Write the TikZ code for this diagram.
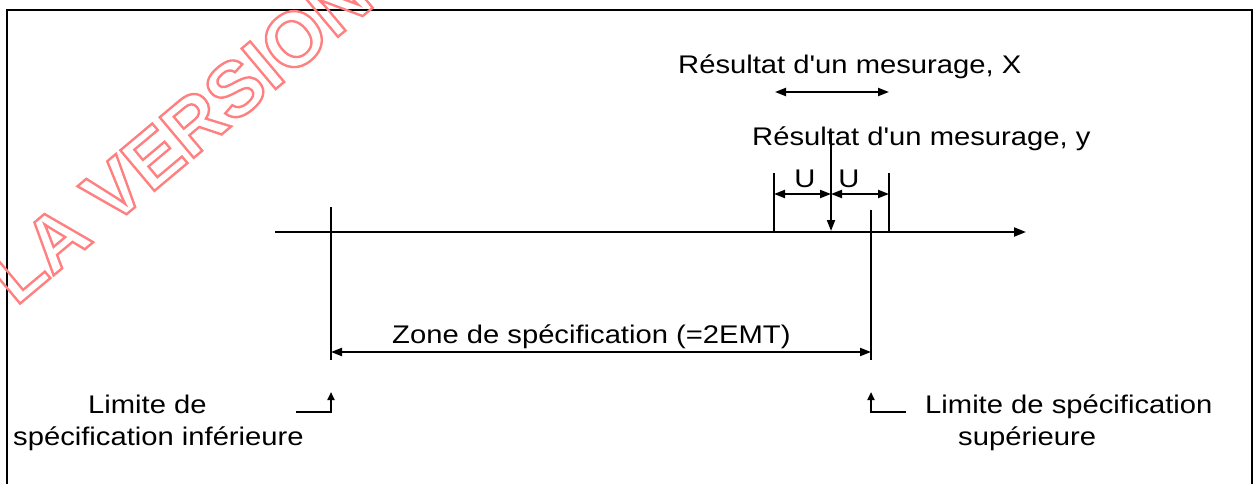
\documentclass[tikz,border=0pt]{standalone}
\usepackage{fontspec}
\setmainfont{Liberation Sans}[FakeStretch=1.145, Ligatures=TeXOff]
\newfontfamily\wmfont{Liberation Sans}
\usetikzlibrary{arrows.meta}
% outlined text: stroke the glyphs instead of filling them
\newcommand{\outlinetext}[1]{\special{pdf:literal direct 1 Tr 2.4 w 1 0.5 0.5 RG}#1\special{pdf:literal direct 0 Tr 0 G}}
\tikzset{
  lbl/.style={inner sep=0pt, anchor=base west, font=\fontsize{25.5}{32}\selectfont},
  ln/.style={line width=2pt},
  axisline/.style={line width=2pt, -{Triangle[length=12pt,width=9pt]}},
  dim/.style={line width=2pt, {Triangle[length=11pt,width=8pt]}-{Triangle[length=11pt,width=8pt]}},
  tipline/.style={line width=2pt, -{Triangle[length=11pt,width=8pt]}},
  small tip/.style={line width=2pt, -{Triangle[length=8pt,width=7pt]}},
  wm/.style={anchor=base west, inner sep=0pt, rotate=40, font=\wmfont\bfseries\fontsize{77}{77}\selectfont},
}
\begin{document}
\begin{tikzpicture}[x=1pt,y=-1pt]
\useasboundingbox (0,0) rectangle (1260,484);

% frame (open at the bottom)
\draw[line width=2pt] (7,500) -- (7,10) -- (1252,10) -- (1252,500);

% measurement axis
\coordinate (ax0) at (275,232);
\coordinate (ax1) at (1026,232);
\draw[axisline] (ax0) -- (ax1);

% specification limits
\coordinate (lsl-top) at (331,207);
\coordinate (lsl-bot) at (331,360);
\coordinate (lsu-top) at (871,210);
\coordinate (lsu-bot) at (871,360);
\draw[ln] (lsl-top) -- (lsl-bot);
\draw[ln] (lsu-top) -- (lsu-bot);

% specification zone
\coordinate (zl) at (331,352);
\coordinate (zr) at (871,352);
\draw[dim] (zl) -- (zr);
\node[lbl] (zone) at (392,343) {Zone de spécification (=2EMT)};

% measurement result X
\node[lbl] (resX) at (678,74) {Résultat d'un mesurage, X};
\coordinate (xl) at (775,92);
\coordinate (xr) at (889,92);
\draw[dim] (xl) -- (xr);

% measurement result y with its uncertainty U
\node[lbl] (resy) at (752,146) {Résultat d'un mesurage, y};
\coordinate (ytop) at (831,133);
\coordinate (yax) at (831,231);
\draw[tipline] (ytop) -- (yax);

\coordinate (ul-top) at (774,173);
\coordinate (ul-bot) at (774,232);
\coordinate (ur-top) at (889,173);
\coordinate (ur-bot) at (889,232);
\draw[ln] (ul-top) -- (ul-bot);
\draw[ln] (ur-top) -- (ur-bot);
\coordinate (um) at (831,194);
\draw[dim] (ul-top |- um) -- (um);
\draw[dim] (um) -- (ur-top |- um);
\node[lbl, anchor=base] (u1) at (805,187) {U};
\node[lbl, anchor=base] (u2) at (849,187) {U};

% lower limit label
\node[lbl] (lo1) at (88,413) {Limite de};
\node[lbl] (lo2) at (13,445) {spécification inférieure};
\coordinate (la0) at (296,412);
\coordinate (la1) at (331,412);
\coordinate (la2) at (331,392);
\draw[small tip] (la0) -- (la1) -- (la2);

% upper limit label
\node[lbl] (up1) at (925,413) {Limite de spécification};
\node[lbl] (up2) at (958,445) {supérieure};
\coordinate (ua0) at (906,412);
\coordinate (ua1) at (871,412);
\coordinate (ua2) at (871,392);
\draw[small tip] (ua0) -- (ua1) -- (ua2);

% watermark
\node[wm] (mark) at (16,307) {\outlinetext{LA VERSION}};
\end{tikzpicture}
\end{document}
